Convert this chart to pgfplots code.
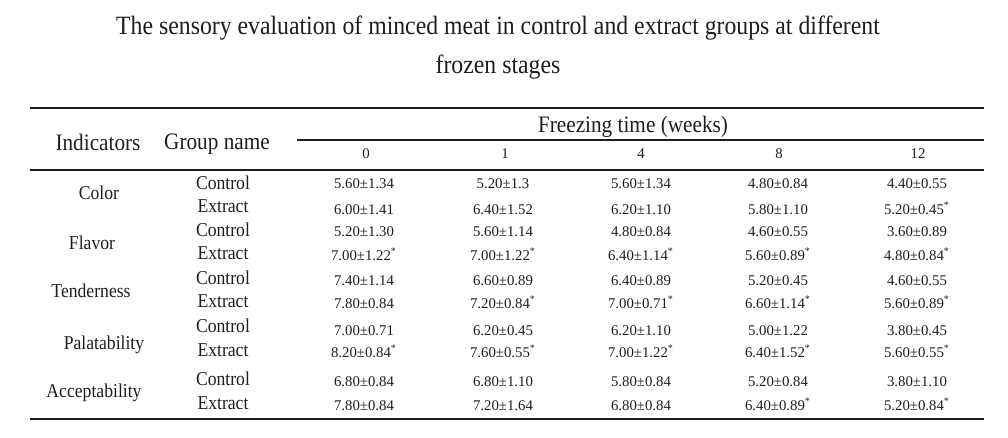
\documentclass[border=0pt]{standalone}
\usepackage{pgfplots}
\pgfplotsset{compat=1.18}
\usepackage{fontspec}
\setmainfont{Liberation Serif}
\newfontfamily\cond[FakeStretch=0.9]{Liberation Serif}
\definecolor{ink}{HTML}{1E1E1E}
\newcommand{\st}{\smash{\textsuperscript{\tiny*}}}
\begin{document}
\begin{tikzpicture}
\begin{axis}[
  scale only axis, width=504pt, height=219pt,
  xmin=0, xmax=1008, ymin=0, ymax=438, y dir=reverse,
  hide axis, clip=false,
  nodes near coords align=center,
  every node near coord/.append style={anchor=center, inner sep=0pt, text=ink},
]
% invisible frame for bounding box
\addplot[draw=none, mark=none] coordinates {(0,0) (1008,438)};
% rules
\addplot[ink, line width=1pt, mark=none] coordinates {(30,108) (984,108)};
\addplot[ink, line width=0.6pt, mark=none] coordinates {(297,140) (984,140)};
\addplot[ink, line width=0.6pt, mark=none] coordinates {(30,170) (984,170)};
\addplot[ink, line width=1.2pt, mark=none] coordinates {(30,419) (984,419)};
% title
\addplot[draw=none, mark=none, nodes near coords, point meta=explicit symbolic,
  every node near coord/.append style={font=\cond\fontsize{13.2}{15}\selectfont}]
  coordinates {
  (498,28) [The sensory evaluation of minced meat in control and extract groups at different]
  (498,67) [frozen stages]
  };
% headers
\addplot[draw=none, mark=none, nodes near coords, point meta=explicit symbolic,
  every node near coord/.append style={font=\cond\fontsize{11.8}{13}\selectfont}]
  coordinates {
  (633,127) [Freezing time (weeks)]
  (98,142) [Indicators]
  (217,144) [Group name]
  };
% column headers
\addplot[draw=none, mark=none, nodes near coords, point meta=explicit symbolic,
  every node near coord/.append style={font=\fontsize{7.4}{9}\selectfont}]
  coordinates {
  (366,154) [0] (505,154) [1] (641,154) [4] (779,154) [8] (918,154) [12]
  };
% indicators and groups
\addplot[draw=none, mark=none, nodes near coords, point meta=explicit symbolic,
  every node near coord/.append style={font=\cond\fontsize{9.8}{11}\selectfont}]
  coordinates {
  (99,193) [Color] (92,243) [Flavor] (91,291) [Tenderness]
  (104,345) [Palatability] (94,393) [Acceptability]
  (223,183) [Control] (223,206) [Extract]
  (223,230) [Control] (223,253) [Extract]
  (223,278) [Control] (223,301) [Extract]
  (223,326) [Control] (223,350) [Extract]
  (223,379) [Control] (223,403) [Extract]
  };
% data: week 0
\addplot[draw=none, mark=none, nodes near coords, point meta=explicit symbolic,
  every node near coord/.append style={font=\fontsize{7.4}{9}\selectfont}]
  coordinates {
  (364,184) [5.60±1.34] (364,210) [6.00±1.41]
  (364,232) [5.20±1.30] (364,256) [7.00±1.22\st]
  (364,281) [7.40±1.14] (364,304) [7.80±0.84]
  (364,331) [7.00±0.71] (364,353) [8.20±0.84\st]
  (364,382) [6.80±0.84] (364,406) [7.80±0.84]
  };
% week 1
\addplot[draw=none, mark=none, nodes near coords, point meta=explicit symbolic,
  every node near coord/.append style={font=\fontsize{7.4}{9}\selectfont}]
  coordinates {
  (503,184) [5.20±1.3] (503,210) [6.40±1.52]
  (503,232) [5.60±1.14] (503,256) [7.00±1.22\st]
  (503,281) [6.60±0.89] (503,304) [7.20±0.84\st]
  (503,331) [6.20±0.45] (503,353) [7.60±0.55\st]
  (503,382) [6.80±1.10] (503,406) [7.20±1.64]
  };
% week 4
\addplot[draw=none, mark=none, nodes near coords, point meta=explicit symbolic,
  every node near coord/.append style={font=\fontsize{7.4}{9}\selectfont}]
  coordinates {
  (641,184) [5.60±1.34] (641,210) [6.20±1.10]
  (641,232) [4.80±0.84] (641,256) [6.40±1.14\st]
  (641,281) [6.40±0.89] (641,304) [7.00±0.71\st]
  (641,331) [6.20±1.10] (641,353) [7.00±1.22\st]
  (641,382) [5.80±0.84] (641,406) [6.80±0.84]
  };
% week 8
\addplot[draw=none, mark=none, nodes near coords, point meta=explicit symbolic,
  every node near coord/.append style={font=\fontsize{7.4}{9}\selectfont}]
  coordinates {
  (778,184) [4.80±0.84] (778,210) [5.80±1.10]
  (778,232) [4.60±0.55] (778,256) [5.60±0.89\st]
  (778,281) [5.20±0.45] (778,304) [6.60±1.14\st]
  (778,331) [5.00±1.22] (778,353) [6.40±1.52\st]
  (778,382) [5.20±0.84] (778,406) [6.40±0.89\st]
  };
% week 12
\addplot[draw=none, mark=none, nodes near coords, point meta=explicit symbolic,
  every node near coord/.append style={font=\fontsize{7.4}{9}\selectfont}]
  coordinates {
  (917,184) [4.40±0.55] (917,210) [5.20±0.45\st]
  (917,232) [3.60±0.89] (917,256) [4.80±0.84\st]
  (917,281) [4.60±0.55] (917,304) [5.60±0.89\st]
  (917,331) [3.80±0.45] (917,353) [5.60±0.55\st]
  (917,382) [3.80±1.10] (917,406) [5.20±0.84\st]
  };
\end{axis}
\end{tikzpicture}
\end{document}
